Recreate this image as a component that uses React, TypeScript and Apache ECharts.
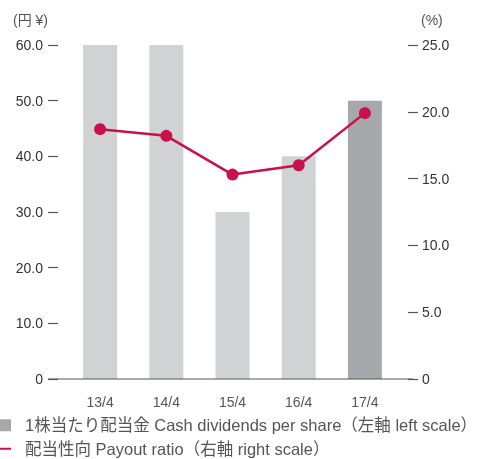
import React, { useEffect, useRef } from "react";
import * as echarts from "echarts";

const categories = ["13/4", "14/4", "15/4", "16/4", "17/4"];
const dividends = [60, 60, 30, 40, 50];
const payoutRatio = [18.7, 18.2, 15.3, 16.0, 19.9];
const leftTicks = { min: 0, max: 60, interval: 10 };
const rightTicks = { min: 0, max: 25, interval: 5 };
const barName = "1株当たり配当金 Cash dividends per share（左軸 left scale）";
const lineName = "配当性向 Payout ratio（右軸 right scale）";

const FONT = "'Liberation Sans', 'Noto Sans CJK JP', sans-serif";

export default function App() {
  const ref = useRef<HTMLDivElement>(null);
  useEffect(() => {
    if (!ref.current) return;
    const chart = echarts.init(ref.current, undefined, { renderer: "svg" });
    const fmt = (v: number) => (v === 0 ? "0" : v.toFixed(1));
    chart.setOption({
      animation: false,
      textStyle: { fontFamily: FONT },
      grid: { left: 67, right: 88, top: 45, bottom: 80, containLabel: false },
      legend: {
        orient: "vertical",
        left: 0,
        top: 417,
        padding: 0,
        itemWidth: 11,
        itemHeight: 12,
        itemGap: 7,
        selectedMode: false,
        textStyle: { fontSize: 16.5, color: "#555", fontFamily: FONT, padding: [0, 0, 0, 9], lineHeight: 16 },
        data: [
          { name: barName, icon: "rect", itemStyle: { color: "#a7a8ab" } },
          { name: lineName, icon: "path://M0,0M0,5H11V7H0ZM11,12", itemStyle: { color: "#c9104a" } },
        ],
      },
      graphic: [
        { type: "text", left: 13, top: 13, style: { text: "(円 ¥)", fontSize: 14, fill: "#555", fontFamily: FONT } },
        { type: "text", left: 421, top: 13, style: { text: "(%)", fontSize: 14, fill: "#555", fontFamily: FONT } },
        { type: "line", shape: { x1: 48, y1: 379, x2: 413, y2: 379 }, style: { stroke: "#555", lineWidth: 1.2 }, z: 10 },
      ],
      xAxis: {
        type: "category",
        data: categories,
        axisLine: { show: false },
        axisTick: { show: false },
        axisLabel: { fontSize: 14, color: "#555", margin: 16, fontFamily: FONT },
      },
      yAxis: [
        {
          type: "value",
          position: "left",
          ...leftTicks,
          offset: 9,
          splitLine: { show: false },
          axisLine: { show: false },
          axisTick: { show: true, length: 10, lineStyle: { color: "#555", width: 1.2 } },
          axisLabel: { fontSize: 14, color: "#333", margin: 15, formatter: fmt, fontFamily: FONT },
        },
        {
          type: "value",
          position: "right",
          ...rightTicks,
          offset: 10,
          splitLine: { show: false },
          axisLine: { show: false },
          axisTick: { show: true, length: 10, lineStyle: { color: "#555", width: 1.2 } },
          axisLabel: { fontSize: 14, color: "#333", margin: 14, formatter: fmt, fontFamily: FONT },
        },
      ],
      series: [
        {
          name: barName,
          type: "bar",
          yAxisIndex: 0,
          barWidth: 34,
          data: dividends.map((v, i) => ({
            value: v,
            itemStyle: { color: i === dividends.length - 1 ? "#a7a8ab" : "#d1d2d4" },
          })),
          itemStyle: { color: "#a7a8ab" },
        },
        {
          name: lineName,
          type: "line",
          yAxisIndex: 1,
          data: payoutRatio,
          symbol: "circle",
          symbolSize: 12,
          lineStyle: { color: "#c9104a", width: 2.5 },
          itemStyle: { color: "#c9104a" },
          z: 5,
        },
      ],
    });
    return () => chart.dispose();
  }, []);
  return <div ref={ref} style={{ position: "fixed", left: 0, top: 0, width: 486, height: 459 }} />;
}
